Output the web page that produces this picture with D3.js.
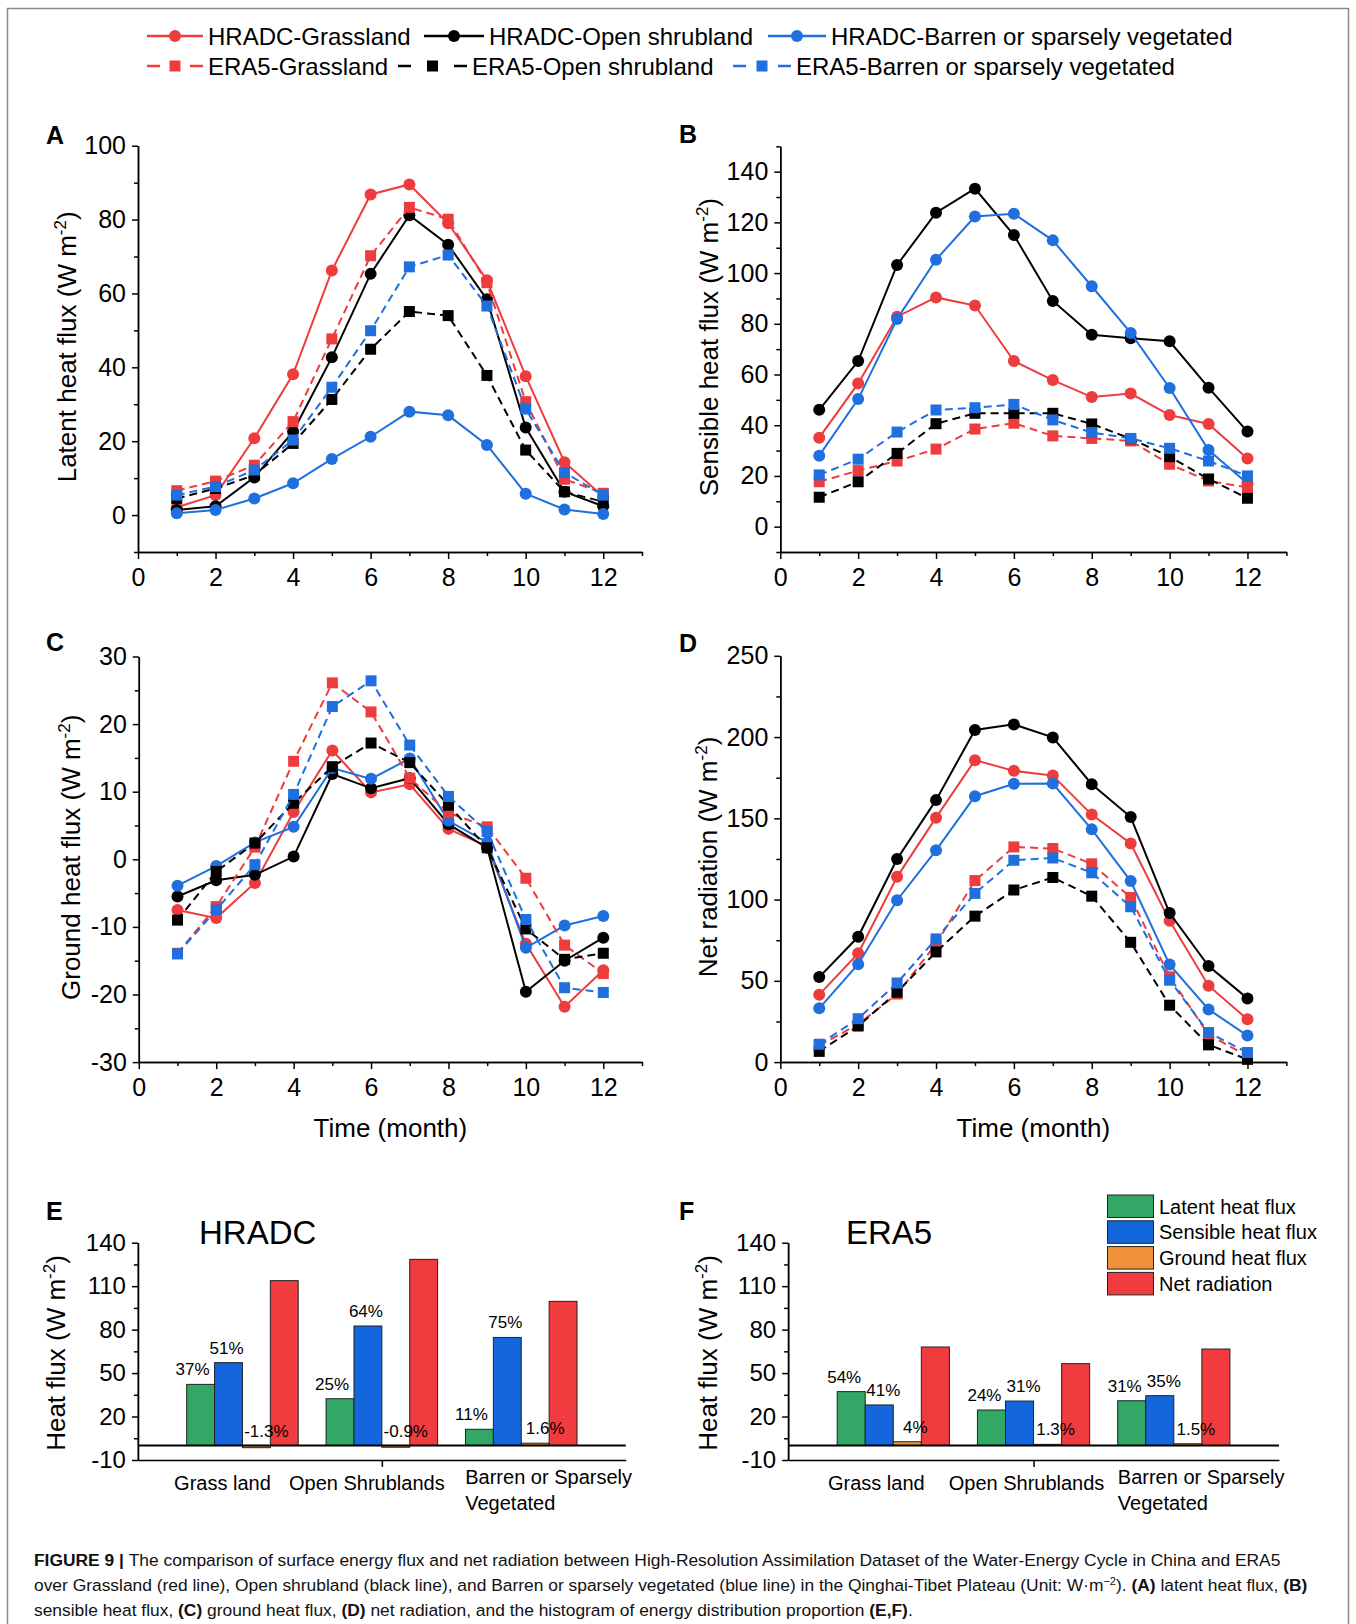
<!DOCTYPE html>
<html>
<head>
<meta charset="utf-8">
<script src="https://cdn.jsdelivr.net/npm/d3@7"></script>
<style>
  body { margin: 0; background: #fff; }
  svg { display: block; font-family: "Liberation Sans", Arial, sans-serif; }
</style>
</head>
<body>
<svg id="fig" width="1356" height="1624"></svg>
<script>
const months = [1, 2, 3, 4, 5, 6, 7, 8, 9, 10, 11, 12];

// (A) latent heat flux
const leHradcGrass  = [2.1, 5.4, 20.8, 38.1, 66.2, 86.8, 89.5, 79.0, 63.6, 37.6, 14.3, 5.0];
const leHradcShrub  = [1.4, 2.4, 10.2, 22.6, 42.7, 65.3, 81.2, 73.2, 58.4, 23.7, 6.3, 2.4];
const leHradcBarren = [0.5, 1.4, 4.5, 8.6, 15.2, 21.2, 28.0, 27.0, 19.0, 5.8, 1.5, 0.3];
const leEraGrass    = [6.6, 9.2, 13.5, 25.3, 47.7, 70.2, 83.3, 80.1, 62.9, 30.7, 9.7, 5.9];
const leEraShrub    = [4.5, 7.2, 10.8, 19.4, 31.3, 44.9, 55.1, 54.0, 37.8, 17.6, 6.3, 3.6];
const leEraBarren   = [5.4, 7.7, 12.2, 20.3, 34.6, 49.9, 67.2, 70.4, 56.6, 28.7, 11.5, 5.4];

// (B) sensible heat flux
const hHradcGrass  = [35.1, 56.5, 82.8, 90.4, 87.2, 65.3, 57.8, 51.1, 52.5, 44.0, 40.5, 26.9];
const hHradcShrub  = [46.1, 65.3, 103.2, 123.8, 133.3, 115.0, 89.0, 75.7, 74.3, 73.1, 54.8, 37.5];
const hHradcBarren = [28.0, 50.3, 81.9, 105.3, 122.3, 123.4, 112.9, 94.8, 76.4, 54.7, 30.2, 17.0];
const hEraGrass    = [17.7, 22.1, 25.9, 30.6, 38.5, 40.8, 35.8, 34.8, 33.8, 24.6, 18.0, 15.5];
const hEraShrub    = [11.6, 17.7, 28.9, 40.6, 44.7, 44.7, 44.7, 40.5, 34.7, 27.6, 18.8, 11.2];
const hEraBarren   = [20.4, 26.6, 37.3, 46.0, 46.9, 48.2, 42.1, 37.1, 34.8, 30.9, 25.9, 20.0];

// (C) ground heat flux
const gHradcGrass  = [-7.5, -8.7, -3.5, 7.0, 16.1, 9.9, 11.1, 4.5, 1.9, -12.5, -21.8, -16.4];
const gHradcShrub  = [-5.5, -3.1, -2.3, 0.4, 12.6, 10.5, 12.0, 5.2, 1.7, -19.6, -15.0, -11.6];
const gHradcBarren = [-3.9, -1.0, 2.5, 4.8, 13.5, 11.9, 14.9, 5.7, 2.5, -13.1, -9.8, -8.4];
const gEraGrass    = [-13.9, -7.0, 1.8, 14.5, 26.1, 21.8, 12.0, 6.9, 4.8, -2.8, -12.7, -16.9];
const gEraShrub    = [-9.0, -1.8, 2.4, 8.3, 13.7, 17.2, 14.3, 8.0, 1.7, -10.3, -14.8, -13.9];
const gEraBarren   = [-14.0, -7.5, -0.8, 9.6, 22.6, 26.4, 16.9, 9.3, 4.1, -8.9, -19.0, -19.7];

// (D) net radiation
const rnHradcGrass  = [41.5, 66.9, 114.0, 150.4, 185.8, 179.2, 176.3, 152.3, 134.5, 86.9, 47.0, 26.3];
const rnHradcShrub  = [52.3, 77.1, 125.0, 161.2, 204.4, 207.8, 199.8, 171.0, 150.8, 91.7, 59.1, 39.2];
const rnHradcBarren = [33.1, 60.2, 99.6, 130.3, 163.6, 171.2, 171.4, 143.2, 111.4, 60.0, 32.4, 16.3];
const rnEraGrass    = [10.2, 23.3, 41.9, 72.7, 111.7, 132.4, 131.4, 122.0, 101.3, 52.5, 16.9, 3.8];
const rnEraShrub    = [6.6, 22.2, 43.0, 67.8, 89.8, 105.9, 113.6, 102.1, 73.7, 35.0, 10.6, 1.7];
const rnEraBarren   = [11.0, 26.7, 48.7, 75.8, 103.8, 124.2, 125.6, 116.5, 95.6, 50.4, 18.2, 5.9];

// (E,F) annual mean fluxes per land type
const landTypes = ['Grass land', 'Open Shrublands', 'Barren or Sparsely|Vegetated'];
const fluxNames = ['Latent heat flux', 'Sensible heat flux', 'Ground heat flux', 'Net radiation'];
const hradcLatent   = [42.2, 32.3, 11.2];
const hradcSensible = [57.2, 82.5, 74.6];
const hradcGround   = [-1.5, -1.2, 1.6];
const hradcNet      = [113.8, 128.5, 99.5];
const hradcLatentPct   = ['37%', '25%', '11%'];
const hradcSensiblePct = ['51%', '64%', '75%'];
const hradcGroundPct   = ['-1.3%', '-0.9%', '1.6%'];
const eraLatent   = [37.2, 24.5, 30.9];
const eraSensible = [28.0, 30.7, 34.4];
const eraGround   = [2.6, 0.8, 1.2];
const eraNet      = [68.0, 56.5, 66.6];
const eraLatentPct   = ['54%', '24%', '31%'];
const eraSensiblePct = ['41%', '31%', '35%'];
const eraGroundPct   = ['4%', '1.3%', '1.5%'];

const RED = '#ee3b3d', BLUE = '#1f6fde', BLACK = '#000';
const BAR_COLORS = ['#33a766', '#1466dc', '#f0923b', '#f03c3f'];

const seriesStyles = [
    { name: 'HRADC-Grassland', color: RED, dashed: false },
    { name: 'HRADC-Open shrubland', color: BLACK, dashed: false },
    { name: 'HRADC-Barren or sparsely vegetated', color: BLUE, dashed: false },
    { name: 'ERA5-Grassland', color: RED, dashed: true },
    { name: 'ERA5-Open shrubland', color: BLACK, dashed: true },
    { name: 'ERA5-Barren or sparsely vegetated', color: BLUE, dashed: true }
];

const svg = d3.select('#fig');
const plain = d => String(d);   // hyphen minus, like the original

// frame
svg.append('rect')
    .attr('x', 7.5).attr('y', 8.5).attr('width', 1341).attr('height', 1640)
    .attr('fill', 'none').attr('stroke', '#8a8a8a').attr('stroke-width', 1.5);

function styleAxis(sel, fontSize) {
    sel.select('.domain').attr('stroke', '#000').attr('stroke-width', 1.5);
    sel.selectAll('.tick line').attr('stroke', '#000').attr('stroke-width', 1.5);
    sel.selectAll('.tick text').attr('font-size', fontSize).attr('fill', '#000')
        .attr('font-family', '"Liberation Sans", Arial, sans-serif');
}

function yLabel(g, x, y, text) {
    const t = g.append('text')
        .attr('transform', `translate(${x},${y}) rotate(-90)`)
        .attr('text-anchor', 'middle')
        .attr('font-size', 26);
    t.append('tspan').text(text + ' (W m');
    t.append('tspan').attr('font-size', 17).attr('dy', -10).text('-2');
    t.append('tspan').attr('dy', 10).text(')');
}

function panelLetter(x, y, letter) {
    svg.append('text').attr('x', x).attr('y', y)
        .attr('font-size', 25).attr('font-weight', 'bold').text(letter);
}

// Line panels
function linePanel(cfg) {
    const g = svg.append('g');
    const x = d3.scaleLinear().domain([0, 13]).range([cfg.left, cfg.right]);
    const y = d3.scaleLinear().domain(cfg.yDomain).range([cfg.bottom, cfg.top]);

    g.append('g').attr('transform', `translate(0,${cfg.bottom})`)
        .call(d3.axisBottom(x).tickValues(d3.range(1, 14, 2)).tickSize(4).tickFormat('').tickSizeOuter(0))
        .call(s => styleAxis(s, 25));
    g.append('g').attr('transform', `translate(0,${cfg.bottom})`)
        .call(d3.axisBottom(x).tickValues(d3.range(0, 13, 2)).tickSize(7).tickPadding(9).tickFormat(plain).tickSizeOuter(0))
        .call(s => styleAxis(s, 25));
    g.append('g').attr('transform', `translate(${cfg.left},0)`)
        .call(d3.axisLeft(y).tickValues(cfg.minor).tickSize(4).tickFormat('').tickSizeOuter(0))
        .call(s => styleAxis(s, 25));
    g.append('g').attr('transform', `translate(${cfg.left},0)`)
        .call(d3.axisLeft(y).tickValues(cfg.major).tickSize(6).tickPadding(6).tickFormat(plain).tickSizeOuter(0))
        .call(s => styleAxis(s, 25));

    const line = d3.line().x((d, i) => x(months[i])).y(d => y(d));

    cfg.series.forEach((vals, k) => {
        const st = seriesStyles[k];
        const sg = g.append('g');
        sg.append('path').datum(vals)
            .attr('d', line)
            .attr('fill', 'none')
            .attr('stroke', st.color)
            .attr('stroke-width', 2)
            .attr('stroke-dasharray', st.dashed ? '8,5' : null);
        if (st.dashed) {
            sg.selectAll('rect').data(vals).enter().append('rect')
                .attr('x', (d, i) => x(months[i]) - 5.5)
                .attr('y', d => y(d) - 5.5)
                .attr('width', 11).attr('height', 11)
                .attr('fill', st.color);
        } else {
            sg.selectAll('circle').data(vals).enter().append('circle')
                .attr('cx', (d, i) => x(months[i]))
                .attr('cy', d => y(d))
                .attr('r', 6)
                .attr('fill', st.color);
        }
    });

    yLabel(g, cfg.labelX, (cfg.top + cfg.bottom) / 2 - 2, cfg.label);
    if (cfg.xLabel) {
        g.append('text')
            .attr('x', (cfg.left + cfg.right) / 2).attr('y', cfg.bottom + 75)
            .attr('text-anchor', 'middle').attr('font-size', 26).text(cfg.xLabel);
    }
}

linePanel({
    left: 138, right: 642, top: 145.7, bottom: 552, yDomain: [-10, 100],
    major: d3.range(0, 101, 20), minor: d3.range(-10, 100, 20),
    series: [leHradcGrass, leHradcShrub, leHradcBarren, leEraGrass, leEraShrub, leEraBarren],
    label: 'Latent heat flux', labelX: 76
});
linePanel({
    left: 780.3, right: 1286.4, top: 146.3, bottom: 552, yDomain: [-10, 150],
    major: d3.range(0, 141, 20), minor: d3.range(-10, 151, 20),
    series: [hHradcGrass, hHradcShrub, hHradcBarren, hEraGrass, hEraShrub, hEraBarren],
    label: 'Sensible heat flux', labelX: 718
});
linePanel({
    left: 138.8, right: 642, top: 656.5, bottom: 1062.1, yDomain: [-30, 30],
    major: d3.range(-30, 31, 10), minor: d3.range(-25, 30, 10),
    series: [gHradcGrass, gHradcShrub, gHradcBarren, gEraGrass, gEraShrub, gEraBarren],
    label: 'Ground heat flux', labelX: 80, xLabel: 'Time (month)'
});
linePanel({
    left: 780.3, right: 1286.4, top: 655.8, bottom: 1062.1, yDomain: [0, 250],
    major: d3.range(0, 251, 50), minor: d3.range(25, 250, 50),
    series: [rnHradcGrass, rnHradcShrub, rnHradcBarren, rnEraGrass, rnEraShrub, rnEraBarren],
    label: 'Net radiation', labelX: 717, xLabel: 'Time (month)'
});

panelLetter(46, 144, 'A');
panelLetter(679, 143, 'B');
panelLetter(46, 651, 'C');
panelLetter(679, 652, 'D');
panelLetter(46, 1220, 'E');
panelLetter(679, 1220, 'F');

// Top legend
const legendRows = [
    { y: 36, items: [[147, 203], [424, 484], [768, 826]] },
    { y: 66, items: [[147, 203], [398, 467], [733, 791]] }
];
legendRows.forEach((row, r) => {
    row.items.forEach((pos, j) => {
        const st = seriesStyles[r * 3 + j];
        const lg = svg.append('g');
        const mid = (pos[0] + pos[1]) / 2;
        if (st.dashed) {
            [[pos[0], pos[0] + 13], [pos[1] - 13, pos[1]]].forEach(s => {
                lg.append('line').attr('x1', s[0]).attr('x2', s[1])
                    .attr('y1', row.y).attr('y2', row.y)
                    .attr('stroke', st.color).attr('stroke-width', 2.5);
            });
            lg.append('rect').attr('x', mid - 5.5).attr('y', row.y - 5.5)
                .attr('width', 11).attr('height', 11).attr('fill', st.color);
        } else {
            lg.append('line').attr('x1', pos[0]).attr('x2', pos[1])
                .attr('y1', row.y).attr('y2', row.y)
                .attr('stroke', st.color).attr('stroke-width', 2.5);
            lg.append('circle').attr('cx', mid).attr('cy', row.y).attr('r', 6).attr('fill', st.color);
        }
        lg.append('text').attr('x', pos[1] + 5).attr('y', row.y + 8.5)
            .attr('font-size', 24).text(st.name);
    });
});

// Bar panels
function barPanel(cfg) {
    const g = svg.append('g');
    const x = d3.scaleLinear().domain([0.25, 3.75]).range([cfg.left, cfg.right]);
    const y = d3.scaleLinear().domain([-10, 140]).range([1460, 1242.7]);
    const bw = x(1.2) - x(1);

    g.append('g').attr('transform', `translate(0,${y(-10)})`)
        .call(d3.axisBottom(x).tickValues([2]).tickSize(7).tickFormat('').tickSizeOuter(0))
        .call(s => styleAxis(s, 24));
    g.append('g').attr('transform', `translate(${cfg.left},0)`)
        .call(d3.axisLeft(y).tickValues([5, 35, 65, 95, 125]).tickSize(4).tickFormat('').tickSizeOuter(0))
        .call(s => styleAxis(s, 24));
    g.append('g').attr('transform', `translate(${cfg.left},0)`)
        .call(d3.axisLeft(y).tickValues([-10, 20, 50, 80, 110, 140]).tickSize(6).tickPadding(6).tickFormat(plain).tickSizeOuter(0))
        .call(s => styleAxis(s, 24));

    cfg.values.forEach((vals, k) => {
        g.append('g').selectAll('rect').data(vals).enter().append('rect')
            .attr('x', (d, i) => x(i + 1) + (k - 2) * bw)
            .attr('y', d => y(Math.max(d, 0)))
            .attr('width', bw)
            .attr('height', d => Math.abs(y(d) - y(0)))
            .attr('fill', BAR_COLORS[k])
            .attr('stroke', '#222').attr('stroke-width', 1);
    });

    g.append('line').attr('x1', cfg.left).attr('x2', cfg.right)
        .attr('y1', y(0)).attr('y2', y(0))
        .attr('stroke', '#000').attr('stroke-width', 2);

    // percentage labels
    cfg.pcts.forEach((labels, k) => {
        const vals = cfg.values[k];
        g.append('g').selectAll('text').data(labels).enter().append('text')
            .attr('x', (d, i) => x(i + 1) + (k - 1.5) * bw + cfg.pctShift[k])
            .attr('y', (d, i) => k === 2 ? y(Math.max(vals[i], 0)) - 9 : y(vals[i]) - 9)
            .attr('text-anchor', 'middle')
            .attr('font-size', 17)
            .text(d => d);
    });

    // category labels
    landTypes.forEach((name, i) => {
        const parts = name.split('|');
        if (parts.length > 1) {
            parts.forEach((p, j) => {
                g.append('text').attr('x', x(i + 1) - 56).attr('y', 1484 + j * 26)
                    .attr('font-size', 20).text(p);
            });
        } else {
            g.append('text').attr('x', x(i + 1) - cfg.labelShift[i]).attr('y', 1490)
                .attr('text-anchor', 'middle').attr('font-size', 20).text(name);
        }
    });

    g.append('text').attr('x', cfg.titleX).attr('y', 1244)
        .attr('font-size', 33).text(cfg.title);

    yLabel(g, cfg.labelX, 1353, 'Heat flux');
}

barPanel({
    left: 137.9, right: 625.8, title: 'HRADC', titleX: 199, labelX: 65,
    values: [hradcLatent, hradcSensible, hradcGround, hradcNet],
    pcts: [hradcLatentPct, hradcSensiblePct, hradcGroundPct],
    pctShift: [-8, -2, 10],
    labelShift: [20, 15]
});
barPanel({
    left: 788.1, right: 1279, title: 'ERA5', titleX: 846, labelX: 717,
    values: [eraLatent, eraSensible, eraGround, eraNet],
    pcts: [eraLatentPct, eraSensiblePct, eraGroundPct],
    pctShift: [-7, 4, 8],
    labelShift: [17, 7]
});

// Bar legend
const barLegend = svg.append('g');
fluxNames.forEach((name, k) => {
    const yy = 1195 + k * 25.8;
    barLegend.append('rect').attr('x', 1107.5).attr('y', yy)
        .attr('width', 46).attr('height', 22.5)
        .attr('fill', BAR_COLORS[k]).attr('stroke', '#222').attr('stroke-width', 1);
    barLegend.append('text').attr('x', 1159).attr('y', yy + 18.5)
        .attr('font-size', 20).text(name);
});

// Caption
const cap = svg.append('text').attr('font-size', 17.4).attr('fill', '#111');
const l1 = cap.append('tspan').attr('x', 34).attr('y', 1566);
l1.append('tspan').attr('font-weight', 'bold').text('FIGURE 9 | ');
l1.append('tspan').text('The comparison of surface energy flux and net radiation between High-Resolution Assimilation Dataset of the Water-Energy Cycle in China and ERA5');
const l2 = cap.append('tspan').attr('x', 34).attr('y', 1591);
l2.append('tspan').text('over Grassland (red line), Open shrubland (black line), and Barren or sparsely vegetated (blue line) in the Qinghai-Tibet Plateau (Unit: W·m');
l2.append('tspan').attr('font-size', 11).attr('dy', -6).text('−2');
l2.append('tspan').attr('dy', 6).text('). ');
l2.append('tspan').attr('font-weight', 'bold').text('(A)');
l2.append('tspan').text(' latent heat flux, ');
l2.append('tspan').attr('font-weight', 'bold').text('(B)');
const l3 = cap.append('tspan').attr('x', 34).attr('y', 1616);
l3.append('tspan').text('sensible heat flux, ');
l3.append('tspan').attr('font-weight', 'bold').text('(C)');
l3.append('tspan').text(' ground heat flux, ');
l3.append('tspan').attr('font-weight', 'bold').text('(D)');
l3.append('tspan').text(' net radiation, and the histogram of energy distribution proportion ');
l3.append('tspan').attr('font-weight', 'bold').text('(E,F)');
l3.append('tspan').text('.');
</script>
</body>
</html>
